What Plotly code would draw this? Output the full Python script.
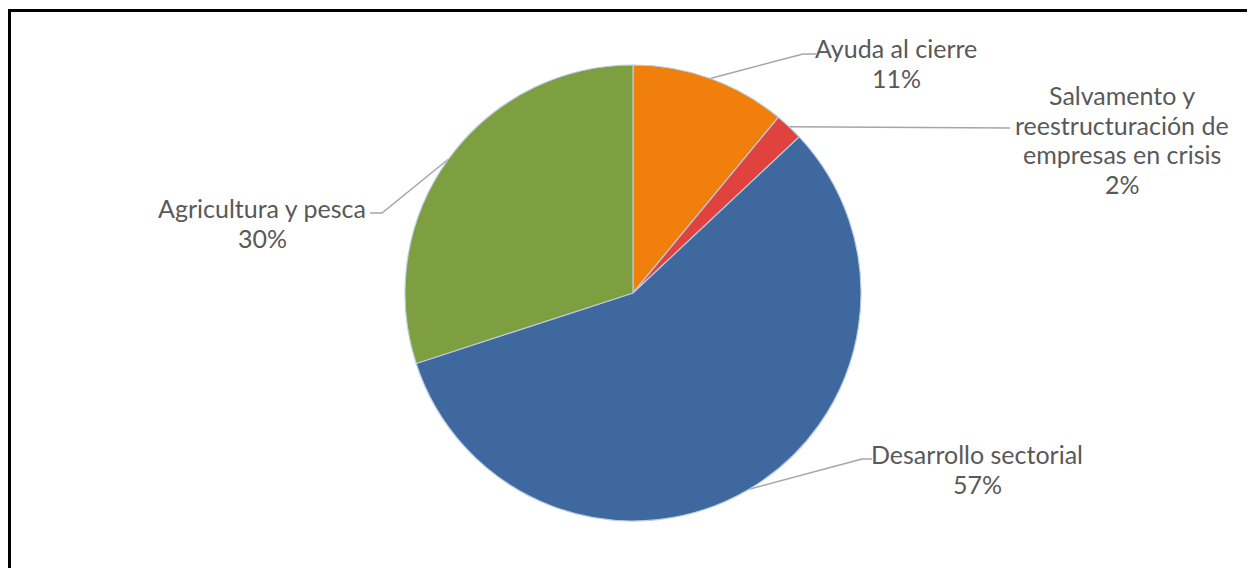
import math
import plotly.graph_objects as go

# ---- data ----
categories = ["Ayuda al cierre",
              "Salvamento y|reestructuración de|empresas en crisis",
              "Desarrollo sectorial",
              "Agricultura y pesca"]
values = [11, 2, 57, 30]
colors = ["#F07F0C", "#E0433D", "#3E689E", "#7E9F40"]

# ---- layout helpers (pixel space of the browser window) ----
W, H = 1255, 568
OFF = 8                       # page body margin
CX, CY, R = 633, 293, 228
LINE_GAP = 29.5
# label block: centre x and y of first line
label_pos = [(896, 48), (1122, 95), (977, 454), (262, 208)]
leader_pts = [[(803, 54), (816, 54)],
              [(1010, 128)],
              [(862, 459), (872, 459)],
              [(382, 213), (370, 213)]]

total = sum(values)
fig = go.Figure()

fig.add_trace(go.Pie(
    labels=[c.replace("|", " ") for c in categories], values=values,
    sort=False, direction="clockwise", rotation=0,
    marker=dict(colors=colors, line=dict(color="#B8CCE4", width=1.2)),
    textinfo="none", hoverinfo="label+percent", showlegend=False,
    domain=dict(x=[(CX - OFF - R) / W, (CX - OFF + R) / W],
                y=[(H - (CY - OFF) - R) / H, (H - (CY - OFF) + R) / H]),
))

cum = 0
for i, v in enumerate(values):
    mid = (cum + v / 2) / total * 2 * math.pi
    cum += v
    ex = CX + R * math.sin(mid)
    ey = CY - R * math.cos(mid)
    xs = [ex] + [p[0] for p in leader_pts[i]]
    ys = [ey] + [p[1] for p in leader_pts[i]]
    fig.add_trace(go.Scatter(x=xs, y=ys, mode="lines",
                             line=dict(color="#A6A6A6", width=1.5),
                             hoverinfo="skip", showlegend=False))
    pct = f"{round(v / total * 100)}%"
    lines = categories[i].split("|") + [pct]
    for k, t in enumerate(lines):
        fig.add_annotation(x=label_pos[i][0], y=label_pos[i][1] + k * LINE_GAP,
                           xref="x", yref="y", text=t, showarrow=False,
                           font=dict(family="Lato, Carlito, Calibri, sans-serif",
                                     size=25, color="#595959"),
                           xanchor="center", yanchor="middle")

fig.add_shape(type="rect", xref="paper", yref="paper",
              x0=(9.5 - OFF) / W, x1=(1249.5 - OFF) / W,
              y0=-0.05, y1=(H - (10.5 - OFF)) / H,
              line=dict(color="black", width=3))

fig.update_layout(
    width=W, height=H,
    margin=dict(l=0, r=0, t=0, b=0),
    paper_bgcolor="white", plot_bgcolor="rgba(0,0,0,0)",
    xaxis=dict(range=[OFF, W + OFF], visible=False, fixedrange=True),
    yaxis=dict(range=[H + OFF, OFF], visible=False, fixedrange=True),
)

fig.write_html("out.html")
